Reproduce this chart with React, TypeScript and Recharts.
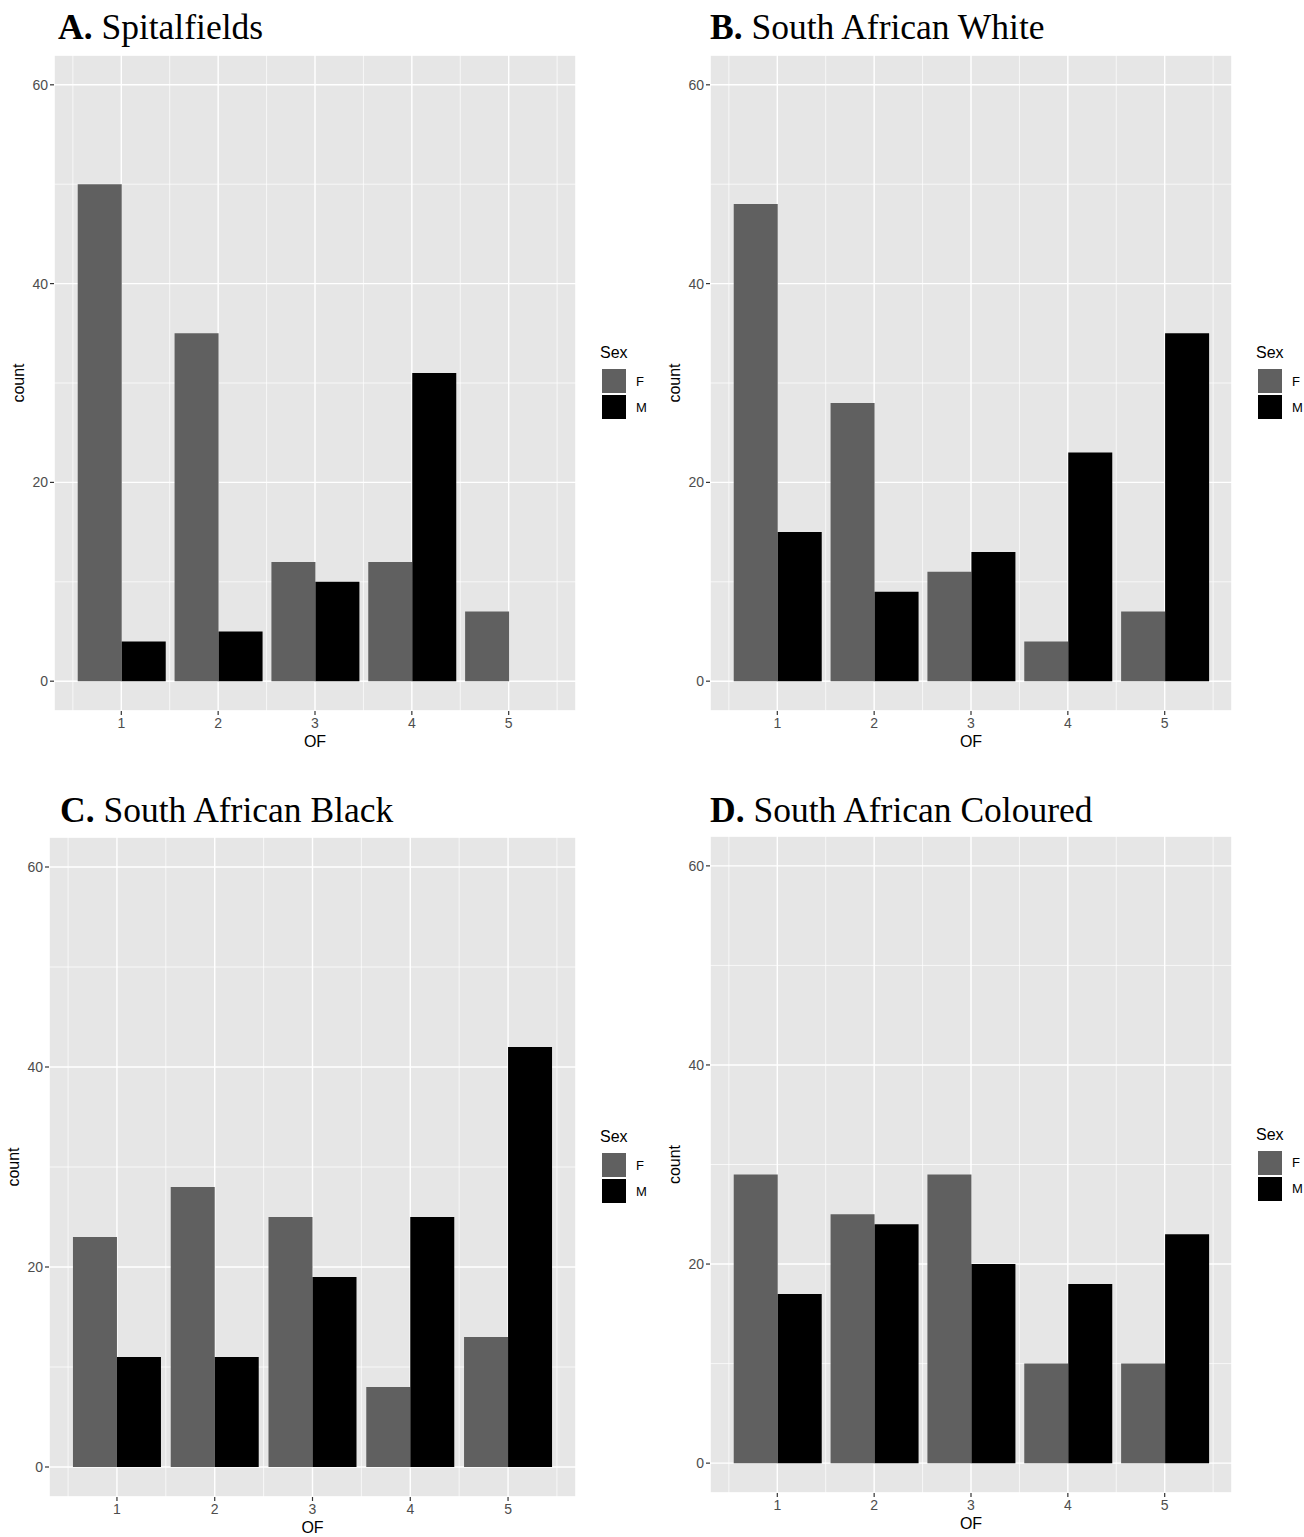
import React from 'react';
import { BarChart, Bar, XAxis, YAxis, CartesianGrid, Legend } from 'recharts';

// ---------- data ----------
const ofValues = [1, 2, 3, 4, 5];
const spitalfieldsF = [50, 35, 12, 12, 7];
const spitalfieldsM = [4, 5, 10, 31, 0];
const saWhiteF = [48, 28, 11, 4, 7];
const saWhiteM = [15, 9, 13, 23, 35];
const saBlackF = [23, 28, 25, 8, 13];
const saBlackM = [11, 11, 19, 25, 42];
const saColouredF = [29, 25, 29, 10, 10];
const saColouredM = [17, 24, 20, 18, 23];

const xMajorTicks = [1, 2, 3, 4, 5];
const xMinorTicks = [0.5, 1.5, 2.5, 3.5, 4.5, 5.5];
const yMajorTicks = [0, 20, 40, 60];
const yMinorTicks = [10, 30, 50];
const xDomain: [number, number] = [0.305, 5.695];
const yDomain: [number, number] = [-3, 63];

const sexKeys = ['F', 'M'];
const sexColors: Record<string, string> = { F: '#606060', M: '#000000' };

type PanelCfg = {
  letter: string;
  name: string;
  F: number[];
  M: number[];
  plot: { left: number; top: number; right: number; bottom: number };
  cTop: number;
  cWidth: number;
  cHeight: number;
  titleX: number;
  titleY: number;
};

const panels: PanelCfg[] = [
  { letter: 'A.', name: 'Spitalfields', F: spitalfieldsF, M: spitalfieldsM,
    plot: { left: 54, top: 55, right: 576, bottom: 711 }, cTop: 0, cWidth: 676, cHeight: 775, titleX: 58, titleY: 39 },
  { letter: 'B.', name: 'South African White', F: saWhiteF, M: saWhiteM,
    plot: { left: 710, top: 55, right: 1232, bottom: 711 }, cTop: 0, cWidth: 668, cHeight: 775, titleX: 710, titleY: 39 },
  { letter: 'C.', name: 'South African Black', F: saBlackF, M: saBlackM,
    plot: { left: 49, top: 837, right: 576, bottom: 1497 }, cTop: 780, cWidth: 681, cHeight: 780, titleX: 60, titleY: 822 },
  { letter: 'D.', name: 'South African Coloured', F: saColouredF, M: saColouredM,
    plot: { left: 710, top: 836, right: 1232, bottom: 1493 }, cTop: 780, cWidth: 668, cHeight: 780, titleX: 710, titleY: 822 },
];

const SANS = '"Liberation Sans", Arial, Helvetica, sans-serif';
const SERIF = '"Liberation Serif", "Times New Roman", Times, serif';

const SexLegend = (props: any) => {
  const payload = props.payload || [];
  return (
    <div style={{ fontFamily: SANS }}>
      <div style={{ fontSize: 16, lineHeight: '20px', height: 20, color: '#000' }}>Sex</div>
      <div style={{ marginTop: 6 }}>
        {payload.map((p: any) => (
          <div key={p.value} style={{ display: 'flex', alignItems: 'center', height: 24, marginBottom: 2 }}>
            <div style={{ width: 24, height: 24, background: p.color, marginLeft: 2 }} />
            <span style={{ marginLeft: 10, fontSize: 13, color: '#000' }}>{p.value}</span>
          </div>
        ))}
      </div>
    </div>
  );
};

const Y_W = 72;
const X_H = 60;

function Panel({ cfg }: { cfg: PanelCfg }) {
  const data = ofValues.map((of, i) => ({ of, F: cfg.F[i], M: cfg.M[i] }));
  const cLeft = cfg.plot.left - Y_W - 2;
  const margin = {
    left: 2,
    top: cfg.plot.top - cfg.cTop,
    right: cLeft + cfg.cWidth - cfg.plot.right,
    bottom: cfg.cTop + cfg.cHeight - cfg.plot.bottom - X_H,
  };
  const legendLeft = cfg.plot.right + 24 - cLeft;
  const legendTop = (cfg.plot.top + cfg.plot.bottom) / 2 - 40 - cfg.cTop;
  const tickStyle = { fontSize: 14, fill: '#4D4D4D' };
  return (
    <>
      <div style={{ position: 'absolute', left: cLeft, top: cfg.cTop, width: cfg.cWidth, height: cfg.cHeight }}>
        <BarChart width={cfg.cWidth} height={cfg.cHeight} data={data} margin={margin} barCategoryGap="5%" barGap={0}>
          <CartesianGrid xAxisId="minor" yAxisId="minor" fill="#E6E6E6" stroke="#FFFFFF" strokeWidth={0.7} />
          <CartesianGrid xAxisId="major" yAxisId="major" stroke="#FFFFFF" strokeWidth={1.4} />
          <XAxis xAxisId="minor" type="number" dataKey="of" domain={xDomain} ticks={xMinorTicks} allowDataOverflow hide />
          <YAxis yAxisId="minor" type="number" domain={yDomain} ticks={yMinorTicks} allowDataOverflow hide />
          <XAxis
            xAxisId="major" type="number" dataKey="of" domain={xDomain} ticks={xMajorTicks} allowDataOverflow
            height={X_H} axisLine={false} tickSize={4} tickMargin={3}
            tickLine={{ stroke: '#333333', strokeWidth: 1.2 }} tick={tickStyle} interval={0}
            label={{ value: 'OF', position: 'center', fontSize: 16, fill: '#000' }}
          />
          <YAxis
            yAxisId="major" type="number" domain={yDomain} ticks={yMajorTicks} allowDataOverflow
            width={Y_W} axisLine={false} tickSize={4} tickMargin={2}
            tickLine={{ stroke: '#333333', strokeWidth: 1.2 }} tick={tickStyle} interval={0}
            label={{ value: 'count', angle: -90, position: 'center', fontSize: 16, fill: '#000' }}
          />
          {sexKeys.map((k) => (
            <Bar key={k} xAxisId="major" yAxisId="major" dataKey={k} name={k} fill={sexColors[k]} isAnimationActive={false} />
          ))}
          <Legend
            layout="vertical" align="center" verticalAlign="middle"
            wrapperStyle={{ left: legendLeft, top: legendTop, width: 60, right: 'auto', bottom: 'auto' }}
            content={<SexLegend />}
          />
        </BarChart>
      </div>
      <svg style={{ position: 'absolute', left: 0, top: 0, overflow: 'visible' }} width={1} height={1}>
        <text x={cfg.titleX} y={cfg.titleY} fontFamily={SERIF} fontSize={35.5} fill="#000">
          <tspan fontWeight="bold">{cfg.letter}</tspan>
          <tspan> {cfg.name}</tspan>
        </text>
      </svg>
    </>
  );
}

export default function App() {
  return (
    <div style={{ position: 'absolute', left: 0, top: 0, width: 1304, height: 1537, overflow: 'hidden', background: '#FFFFFF', fontFamily: SANS }}>
      {panels.map((p) => (
        <Panel key={p.letter} cfg={p} />
      ))}
    </div>
  );
}
